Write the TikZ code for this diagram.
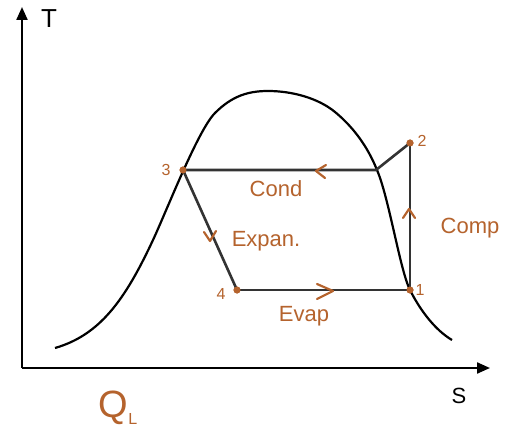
\documentclass[tikz,border=0pt]{standalone}
\usepackage{fontspec}
\setmainfont{Liberation Sans}
\usetikzlibrary{arrows.meta}
\definecolor{brn}{HTML}{B5632D}
\begin{document}
\begin{tikzpicture}[x=1pt,y=-1pt,
  axis/.style={line width=2.2pt,-{Triangle[length=13pt,width=11pt]}},
  cyc/.style={line width=2.6pt,draw=black!80},
  dome/.style={line width=2.2pt},
  dot/.style={circle,fill=brn,inner sep=0pt,minimum size=7pt},
  lbl/.style={text=brn,font=\fontsize{16}{18}\selectfont},
  plbl/.style={text=brn,font=\fontsize{22}{24}\selectfont},
  chev/.style={draw=brn,line width=2.2pt,line cap=round,line join=round}]
\useasboundingbox (0,0) rectangle (513,435);
\fill[white] (0,0) rectangle (513,435);
% axes
\coordinate (O) at (22,368);
\coordinate (Ty) at (22,7);
\coordinate (Sx) at (490,368);
\draw[axis] (O) -- (Ty);
\draw[axis] (O) -- (Sx);
\node[font=\fontsize{26}{28}\selectfont] (T) at (49,19) {T};
\node[font=\fontsize{22}{24}\selectfont] (S) at (459,396) {S};
\node[text=brn,font=\fontsize{38}{40}\selectfont] (Q) at (118,408) {Q\raisebox{-0.35ex}{\fontsize{16}{18}\selectfont L}};
% dome
\draw[dome] (55,348) .. controls (100,335) and (125,300) .. (153,240)
  .. controls (167,210) and (198,130) .. (215,113)
  .. controls (232,96) and (248,91) .. (268,91)
  .. controls (292,91) and (318,98) .. (335,112)
  .. controls (352,126) and (367,145) .. (377,170)
  .. controls (389,198) and (400,270) .. (410,290)
  .. controls (420,310) and (435,330) .. (452,340);
% states
\node[dot] (p3) at (183,170) {};
\node[dot] (p4) at (237,290) {};
\node[dot] (p1) at (410,290) {};
\node[dot] (p2) at (410,143) {};
\coordinate (sv) at (376,170);
\draw[cyc] (p3.center) -- (sv) -- (p2.center);
\draw[cyc] (p2.center) -- (p1.center);
\draw[cyc] (p1.center) -- (p4.center);
\draw[cyc] (p3.center) -- (p4.center);
\node[dot] at (p3) {};
\node[dot] at (p4) {};
\node[dot] at (p1) {};
\node[dot] at (p2) {};
% number labels
\node[lbl] (n3) at (166,170) {3};
\node[lbl] (n4) at (221,294) {4};
\node[lbl] (n1) at (420,290) {1};
\node[lbl] (n2) at (422,141) {2};
% process labels
\node[plbl] (cond) at (276,189) {Cond};
\node[plbl] (exp) at (266,241) {Expan.};
\node[plbl] (comp) at (470,228) {Comp};
\node[plbl] (evap) at (304,316) {Evap};
% chevrons
\draw[chev] (326,165) -- (316,171) -- (325,178);
\draw[chev] (204,232) -- (210,241) -- (216,231);
\draw[chev] (403,218) -- (409,209) -- (415,218);
\draw[chev] (317,284) -- (333,291) -- (317,299);
\end{tikzpicture}
\end{document}
